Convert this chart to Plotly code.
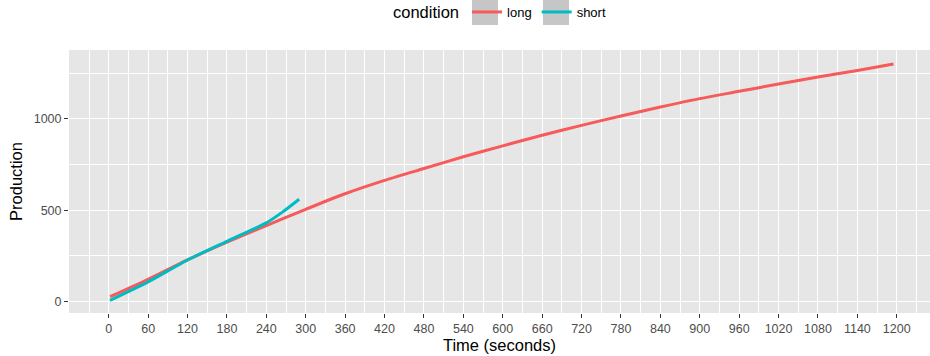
import plotly.graph_objects as go

long_t = [2, 60, 120, 180, 240, 300, 360, 420, 480, 540, 600, 660, 720, 780, 840, 900, 960, 1020, 1080, 1140, 1195]
long_v = [27, 122, 228, 325, 416, 505, 590, 663, 728, 792, 852, 910, 964, 1015, 1064, 1110, 1150, 1190, 1228, 1264, 1300]

short_t = [2, 60, 120, 180, 240, 265, 290]
short_v = [7, 108, 228, 330, 431, 491, 560]

x_ticks = list(range(0, 1201, 60))
y_ticks = [0, 500, 1000]

FONT = "Liberation Sans, Arial, sans-serif"
RED = "#F65A5A"
CYAN = "#00BCC2"

# plot area in pixels: x 69..930, y 50..313
PL, PR, PT, PB = 69, 930, 50, 313
def px_x(p):
    return (p - PL) / (PR - PL)
def px_y(p):
    return (PB - p) / (PB - PT)

fig = go.Figure()
fig.add_trace(go.Scatter(x=long_t, y=long_v, mode="lines", name="long",
                         line=dict(color=RED, width=3, shape="spline", smoothing=0.8)))
fig.add_trace(go.Scatter(x=short_t, y=short_v, mode="lines", name="short",
                         line=dict(color=CYAN, width=3, shape="spline", smoothing=0.6)))

# grey legend key boxes
for x0, x1 in [(472, 498), (543, 569)]:
    fig.add_shape(type="rect", xref="paper", yref="paper",
                  x0=px_x(x0), x1=px_x(x1), y0=px_y(25), y1=px_y(0),
                  fillcolor="#C6C6C6", line=dict(width=0), layer="above")

fig.update_layout(
    width=930, height=356,
    margin=dict(l=PL, r=930 - PR, t=PT, b=356 - PB, autoexpand=False),
    paper_bgcolor="white",
    plot_bgcolor="#E6E6E6",
    font=dict(family=FONT, color="#4D4D4D"),
    legend=dict(
        orientation="h", x=px_x(391), xanchor="left", y=px_y(-3), yanchor="top",
        title=dict(text="condition", font=dict(size=16.5, color="black", family=FONT)),
        font=dict(size=13, color="black", family=FONT),
        bgcolor="rgba(0,0,0,0)",
        itemwidth=30,
        tracegroupgap=0,
    ),
    showlegend=True,
)

fig.update_xaxes(
    range=[-60.5, 1250.6],
    tickmode="array", tickvals=x_ticks, ticktext=[str(v) for v in x_ticks],
    ticks="outside", ticklen=4, tickwidth=1, tickcolor="#333333",
    tickfont=dict(size=12.5, color="#4D4D4D"),
    showgrid=True, gridcolor="white", gridwidth=1.1,
    minor=dict(tickmode="array", tickvals=list(range(-30, 1260, 60)), showgrid=True, gridcolor="white", gridwidth=0.5, ticks=""),
    zeroline=False, showline=False,
    title=dict(text="Time (seconds)", font=dict(size=16.5, color="black"), standoff=2),
)
fig.update_yaxes(
    range=[-62, 1376],
    tickmode="array", tickvals=y_ticks, ticktext=[str(v) for v in y_ticks],
    ticks="outside", ticklen=4, tickwidth=1, tickcolor="#333333",
    tickfont=dict(size=12.5, color="#4D4D4D"),
    showgrid=True, gridcolor="white", gridwidth=1.1,
    minor=dict(tickmode="array", tickvals=[250, 750, 1250], showgrid=True, gridcolor="white", gridwidth=0.5, ticks=""),
    zeroline=False, showline=False,
    title=dict(text="Production", font=dict(size=16.5, color="black"), standoff=6),
)

fig.write_html("out.html")
